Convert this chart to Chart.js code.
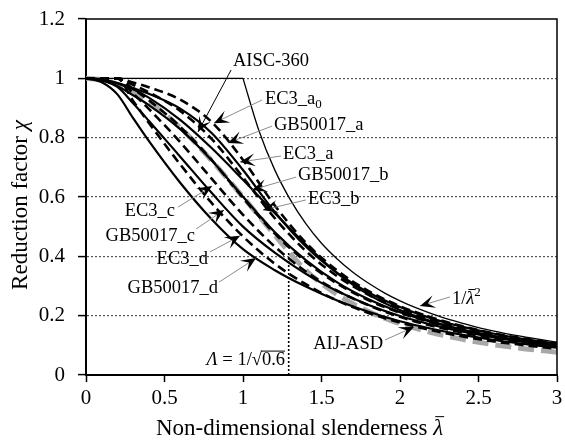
<!DOCTYPE html>
<html>
<head>
<meta charset="utf-8">
<script src="https://cdn.jsdelivr.net/npm/chart.js@4.4.0/dist/chart.umd.min.js"></script>
<style>
  html, body { margin: 0; padding: 0; background: #fff; }
</style>
</head>
<body>
<canvas id="chart" width="565" height="440"></canvas>
<script>
// slenderness grid shared by the design curves
const lam = [0, 0.1, 0.2, 0.3, 0.4, 0.6, 0.8, 1.0, 1.2, 1.4, 1.6, 1.8, 2.0, 2.2, 2.4, 2.6, 2.8, 3.0];

const ec3_a0 = [1, 1, 1, 0.986, 0.970, 0.928, 0.853, 0.725, 0.573, 0.446, 0.352, 0.283, 0.232, 0.194, 0.164, 0.140, 0.122, 0.106];
const ec3_a  = [1, 1, 1, 0.978, 0.953, 0.890, 0.796, 0.666, 0.530, 0.418, 0.333, 0.270, 0.223, 0.187, 0.159, 0.136, 0.118, 0.104];
const ec3_b  = [1, 1, 1, 0.964, 0.926, 0.837, 0.725, 0.597, 0.478, 0.382, 0.308, 0.252, 0.210, 0.177, 0.151, 0.130, 0.113, 0.099];
const ec3_c  = [1, 1, 1, 0.949, 0.897, 0.785, 0.662, 0.540, 0.434, 0.349, 0.284, 0.235, 0.196, 0.166, 0.143, 0.123, 0.108, 0.095];
const ec3_d  = [1, 1, 1, 0.924, 0.850, 0.710, 0.580, 0.467, 0.376, 0.306, 0.251, 0.209, 0.177, 0.151, 0.130, 0.113, 0.100, 0.088];

const gb_a = [1, 0.996, 0.984, 0.967, 0.948, 0.898, 0.816, 0.691, 0.551, 0.433, 0.344, 0.278, 0.229, 0.191, 0.162, 0.139, 0.120, 0.105];
const gb_b = [1, 0.994, 0.974, 0.943, 0.910, 0.829, 0.724, 0.601, 0.483, 0.387, 0.312, 0.255, 0.212, 0.179, 0.152, 0.131, 0.114, 0.100];
const gb_c = [1, 0.993, 0.971, 0.916, 0.857, 0.736, 0.614, 0.500, 0.413, 0.341, 0.283, 0.236, 0.199, 0.170, 0.146, 0.127, 0.111, 0.098];
const gb_d = [1, 0.987, 0.946, 0.866, 0.789, 0.648, 0.525, 0.424, 0.354, 0.298, 0.251, 0.213, 0.181, 0.156, 0.135, 0.118, 0.104, 0.092];

const aisc = [1, 0.996, 0.983, 0.963, 0.935, 0.860, 0.765, 0.658, 0.547, 0.440, 0.343, 0.271, 0.219, 0.181, 0.152, 0.130, 0.112, 0.097];
const aij  = [1, 0.995, 0.980, 0.956, 0.922, 0.834, 0.723, 0.600, 0.473, 0.353, 0.271, 0.214, 0.173, 0.143, 0.120, 0.102, 0.088, 0.077];

// Euler curve: plateau, then 1/lambda^2
const eulerCapLam = [0, 1.0];
const eulerCap = [1, 1];
const eulerLam = [1.0, 1.1, 1.2, 1.3, 1.4, 1.5, 1.6, 1.7, 1.8, 1.9, 2.0, 2.1, 2.2, 2.3, 2.4, 2.5, 2.6, 2.7, 2.8, 2.9, 3.0];
const euler = [1, 0.826, 0.694, 0.592, 0.510, 0.444, 0.391, 0.346, 0.309, 0.277, 0.250, 0.227, 0.207, 0.189, 0.174, 0.160, 0.148, 0.137, 0.128, 0.119, 0.111];

// Lambda = 1/sqrt(0.6) marker
const limLam = [1.291, 1.291];
const limChi = [0, 0.415];

const xTicks = [0, 0.5, 1, 1.5, 2, 2.5, 3];
const yTicks = [0, 0.2, 0.4, 0.6, 0.8, 1, 1.2];

const SERIF = '"Liberation Serif", "Times New Roman", serif';
Chart.defaults.font.family = SERIF;
Chart.defaults.color = '#000';

const pts = (xs, ys) => xs.map((x, i) => ({x: x, y: ys[i]}));

function curve(label, xs, ys, dashed) {
  return {
    label: label,
    data: pts(xs, ys),
    borderColor: '#000',
    borderWidth: dashed ? 2.6 : 2.2,
    borderDash: dashed ? [9, 5] : [],
    pointRadius: 0,
    cubicInterpolationMode: 'monotone',
    fill: false,
    order: 1
  };
}

// label, anchor, leader start, arrow tip (data units)
const notes = [
  {parts: [['AISC-360']], at: [0.936, 1.062], align: 'left', from: [0.924, 1.028], tip: [0.713, 0.819], lead: '#000'},
  {parts: [['EC3_a'], ['0', 'sub']], at: [1.140, 0.934], align: 'left', from: [1.121, 0.927], tip: [0.815, 0.849]},
  {parts: [['GB50017_a']], at: [1.197, 0.846], align: 'left', from: [1.185, 0.839], tip: [0.904, 0.782]},
  {parts: [['EC3_a']], at: [1.255, 0.748], align: 'left', from: [1.242, 0.738], tip: [0.981, 0.718]},
  {parts: [['GB50017_b']], at: [1.350, 0.678], align: 'left', from: [1.338, 0.667], tip: [1.057, 0.624]},
  {parts: [['EC3_b']], at: [1.414, 0.597], align: 'left', from: [1.401, 0.590], tip: [1.127, 0.556]},
  {parts: [['EC3_c']], at: [0.567, 0.556], align: 'right', from: [0.586, 0.566], tip: [0.803, 0.637]},
  {parts: [['GB50017_c']], at: [0.694, 0.472], align: 'right', from: [0.701, 0.492], tip: [0.879, 0.556]},
  {parts: [['EC3_d']], at: [0.777, 0.394], align: 'right', from: [0.790, 0.415], tip: [0.981, 0.469]},
  {parts: [['GB50017_d']], at: [0.841, 0.297], align: 'right', from: [0.847, 0.313], tip: [1.083, 0.394]},
  {parts: [['1/'], ['λ', 'ibar'], ['2', 'sup']], at: [2.331, 0.260], align: 'left', from: [2.318, 0.263], tip: [2.127, 0.233]},
  {parts: [['AIJ-ASD']], at: [1.892, 0.108], align: 'right', from: [1.904, 0.118], tip: [2.089, 0.162]},
  {parts: [['Λ', 'i'], [' = 1/√'], ['0.6', 'over']], at: [1.268, 0.055], align: 'right'}
];

function fontFor(kind, size) {
  if (kind === 'sub' || kind === 'sup') return Math.round(size * 0.68) + 'px ' + SERIF;
  if (kind === 'i' || kind === 'ibar') return 'italic ' + size + 'px ' + SERIF;
  return size + 'px ' + SERIF;
}

function drawParts(ctx, parts, x, y, align, size) {
  let total = 0;
  parts.forEach(p => { ctx.font = fontFor(p[1], size); total += ctx.measureText(p[0]).width; });
  let cx = align === 'right' ? x - total : (align === 'center' ? x - total / 2 : x);
  ctx.textAlign = 'left';
  ctx.textBaseline = 'alphabetic';
  const base = y + size * 0.33;
  parts.forEach(p => {
    const kind = p[1];
    ctx.font = fontFor(kind, size);
    const w = ctx.measureText(p[0]).width;
    let by = base;
    if (kind === 'sub') by = base + size * 0.22;
    if (kind === 'sup') by = base - size * 0.42;
    ctx.fillText(p[0], cx, by);
    if (kind === 'ibar' || kind === 'over') {
      ctx.lineWidth = 1;
      ctx.beginPath();
      const top = base - size * (kind === 'ibar' ? 0.78 : 0.74);
      ctx.moveTo(cx + (kind === 'ibar' ? 2 : -1), top);
      ctx.lineTo(cx + w + (kind === 'ibar' ? 1 : 0), top);
      ctx.stroke();
    }
    cx += w;
  });
}

function arrowHead(ctx, x0, y0, x1, y1) {
  const a = Math.atan2(y1 - y0, x1 - x0);
  const L = 15, W = 6.5;
  ctx.save();
  ctx.translate(x1, y1);
  ctx.rotate(a);
  ctx.beginPath();
  ctx.moveTo(0, 0);
  ctx.lineTo(-L, -W);
  ctx.lineTo(-L * 0.55, 0);
  ctx.lineTo(-L, W);
  ctx.closePath();
  ctx.fill();
  ctx.restore();
}

const notesPlugin = {
  id: 'notes',
  afterDraw(chart) {
    const {ctx, chartArea: a} = chart;
    const sx = chart.scales.x, sy = chart.scales.y;
    const px = v => sx.getPixelForValue(v), py = v => sy.getPixelForValue(v);
    ctx.save();
    // top and right frame
    ctx.strokeStyle = '#000';
    ctx.lineWidth = 1.5;
    ctx.beginPath();
    ctx.moveTo(a.left, a.top);
    ctx.lineTo(a.right, a.top);
    ctx.lineTo(a.right, a.bottom);
    ctx.stroke();

    notes.forEach(n => {
      if (n.tip) {
        const x0 = px(n.from[0]), y0 = py(n.from[1]);
        const x1 = px(n.tip[0]), y1 = py(n.tip[1]);
        ctx.strokeStyle = n.lead || '#8c8c8c';
        ctx.lineWidth = 1;
        ctx.beginPath();
        ctx.moveTo(x0, y0);
        ctx.lineTo(x1, y1);
        ctx.stroke();
        ctx.fillStyle = '#000';
        arrowHead(ctx, x0, y0, x1, y1);
      }
      ctx.fillStyle = '#000';
      ctx.strokeStyle = '#000';
      drawParts(ctx, n.parts, px(n.at[0]), py(n.at[1]), n.align, 18.5);
    });

    // axis titles
    ctx.fillStyle = '#000';
    ctx.strokeStyle = '#000';
    drawParts(ctx, [['Non-dimensional slenderness '], ['λ', 'ibar']], a.left + 70, 427, 'left', 23);
    ctx.save();
    ctx.translate(19, 205);
    ctx.rotate(-Math.PI / 2);
    drawParts(ctx, [['Reduction factor '], ['χ', 'i']], 0, 0, 'center', 23);
    ctx.restore();
    ctx.restore();
  }
};

const datasets = [
  {label: 'AIJ-ASD', data: pts(lam, aij), borderColor: '#a8a8a8', borderWidth: 5, borderDash: [16, 7],
   pointRadius: 0, cubicInterpolationMode: 'monotone', fill: false, order: 5},
  curve('EC3_a0', lam, ec3_a0, true),
  curve('EC3_a', lam, ec3_a, true),
  curve('EC3_b', lam, ec3_b, true),
  curve('EC3_c', lam, ec3_c, true),
  curve('EC3_d', lam, ec3_d, true),
  curve('GB50017_a', lam, gb_a, false),
  curve('GB50017_b', lam, gb_b, false),
  curve('GB50017_c', lam, gb_c, false),
  curve('GB50017_d', lam, gb_d, false),
  curve('AISC-360', lam, aisc, false),
  {label: 'Euler cap', data: pts(eulerCapLam, eulerCap), borderColor: '#000', borderWidth: 1.3,
   pointRadius: 0, tension: 0, fill: false, order: 1},
  {label: '1/λ²', data: pts(eulerLam, euler), borderColor: '#000', borderWidth: 1.3,
   pointRadius: 0, cubicInterpolationMode: 'monotone', fill: false, order: 1},
  {label: 'Λ', data: pts(limLam, limChi), borderColor: '#000', borderWidth: 1.6, borderDash: [2, 2],
   pointRadius: 0, tension: 0, fill: false, order: 1}
];

new Chart(document.getElementById('chart').getContext('2d'), {
  type: 'line',
  data: {datasets: datasets},
  options: {
    responsive: false,
    animation: false,
    events: [],
    layout: {padding: {top: 19, right: 8, left: 0, bottom: 0}},
    plugins: {legend: {display: false}, tooltip: {enabled: false}},
    scales: {
      x: {
        type: 'linear', min: 0, max: 3,
        afterBuildTicks: s => { s.ticks = xTicks.map(v => ({value: v})); },
        afterFit: s => { s.height = 65; s.paddingLeft = 0; s.paddingRight = 0; },
        grid: {drawOnChartArea: false, tickLength: 7, tickColor: '#000', tickWidth: 1.5},
        border: {color: '#000', width: 2},
        ticks: {color: '#000', font: {size: 21}, padding: 4, maxRotation: 0, callback: v => String(v)}
      },
      y: {
        type: 'linear', min: 0, max: 1.2,
        afterBuildTicks: s => { s.ticks = yTicks.map(v => ({value: v})); },
        afterFit: s => { s.width = 86; s.paddingTop = 0; s.paddingBottom = 0; },
        grid: {
          color: c => (c.tick && (c.tick.value === 0 || c.tick.value === 1.2)) ? 'rgba(0,0,0,0)' : '#555',
          lineWidth: 1.2, tickLength: 8, tickColor: '#000', tickWidth: 1.5, tickBorderDash: []
        },
        border: {color: '#000', width: 2, dash: [2, 2]},
        ticks: {color: '#000', font: {size: 21}, padding: 13, callback: v => String(v)}
      }
    }
  },
  plugins: [notesPlugin]
});
</script>
</body>
</html>
